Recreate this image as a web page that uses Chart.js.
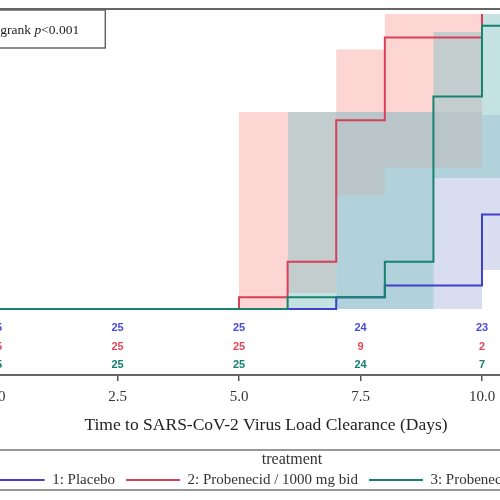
<!DOCTYPE html>
<html><head><meta charset="utf-8">
<script src="https://cdn.jsdelivr.net/npm/chart.js@4"></script>
<style>
html,body{margin:0;padding:0;background:#fff;}
#wrap{position:relative;width:500px;height:500px;overflow:hidden;background:#fff;}
#c{position:absolute;left:-58px;top:0;}
</style></head><body>
<div id="wrap"><canvas id="c" width="700" height="500"></canvas></div>
<script>
// ---- data ----
const tickValues = [0, 2.5, 5, 7.5, 10];
const groups = ['1: Placebo', '2: Probenecid / 1000 mg bid', '3: Probenecid / 500 mg bid'];
const atRiskTimes = [0, 2.5, 5, 7.5, 10];
const placeboAtRisk = [25, 25, 25, 24, 23];
const prob1000AtRisk = [25, 25, 25, 9, 2];
const prob500AtRisk = [25, 25, 25, 24, 7];

const placeboTimes = [0, 7, 8, 10, 11];
const placeboCum = [0, 0.04, 0.08, 0.32, 0.32];
const prob1000Times = [0, 5, 6, 7, 8, 10];
const prob1000Cum = [0, 0.04, 0.16, 0.64, 0.92, 1.0];
const prob500Times = [0, 6, 8, 9, 10, 11];
const prob500Cum = [0, 0.04, 0.16, 0.72, 0.96, 0.96];

const placeboBandTimes = [7, 8, 9, 10, 11];
const placeboLower = [0, 0, 0, 0.132, 0.132];
const placeboUpper = [0.668, 0.668, 0.668, 0.658, 0.658];
const prob1000BandTimes = [5, 6, 7, 8, 9, 10];
const prob1000Lower = [0, 0.054, 0.386, 0.478, 0.478, 0.478];
const prob1000Upper = [0.668, 0.668, 0.88, 1.0, 1.0, 1.0];
const prob500BandTimes = [6, 7, 8, 9, 10, 11];
const prob500Lower = [0, 0, 0, 0.444, 0.444, 0.444];
const prob500Upper = [0.668, 0.668, 0.668, 0.939, 1.0, 1.0];

const pText = {pre: 'Logrank ', it: 'p', post: '<0.001'};

// ---- styles ----
const SERIF = "'Liberation Serif', 'DejaVu Serif', serif";
const blue = '#4040cc', red = '#d8405a', green = '#17826f';
const blueBand = 'rgba(177,187,225,0.5)', redBand = 'rgba(251,173,167,0.5)', greenBand = 'rgba(139,197,199,0.5)';
const atRiskColors = ['#4b4bd6', '#e0475a', '#12806c'];

const pts = (t, v) => t.map((x, i) => ({x: x, y: v[i]}));
const lineDs = (label, t, v, color) => ({label, data: pts(t, v), borderColor: color, backgroundColor: color,
  borderWidth: 2, stepped: 'before', pointRadius: 0, pointHoverRadius: 0, fill: false});
const bandDs = (t, v, color, target) => ({label: '', data: pts(t, v), borderWidth: 0, borderColor: 'rgba(0,0,0,0)',
  backgroundColor: color, stepped: 'before', pointRadius: 0, pointHoverRadius: 0, fill: target});

const datasets = [
  lineDs(groups[2], prob500Times, prob500Cum, green),
  lineDs(groups[1], prob1000Times, prob1000Cum, red),
  lineDs(groups[0], placeboTimes, placeboCum, blue),
  bandDs(prob500BandTimes, prob500Upper, greenBand, '+1'),
  bandDs(prob500BandTimes, prob500Lower, greenBand, false),
  bandDs(prob1000BandTimes, prob1000Upper, redBand, '+1'),
  bandDs(prob1000BandTimes, prob1000Lower, redBand, false),
  bandDs(placeboBandTimes, placeboUpper, blueBand, '+1'),
  bandDs(placeboBandTimes, placeboLower, blueBand, false)
];

const decor = {
  id: 'decor',
  afterDatasetsDraw(chart) {
    const ctx = chart.ctx, xs = chart.scales.x, ys = chart.scales.y;
    const y0 = ys.getPixelForValue(0);
    const rows = [placeboAtRisk, prob1000AtRisk, prob500AtRisk];
    const offs = [19, 38, 56];
    ctx.save();
    ctx.font = "bold 11px 'Liberation Sans Narrow', 'Liberation Sans', sans-serif";
    ctx.textAlign = 'center'; ctx.textBaseline = 'middle';
    rows.forEach((row, r) => {
      ctx.fillStyle = atRiskColors[r];
      row.forEach((n, i) => ctx.fillText(String(n), xs.getPixelForValue(atRiskTimes[i]), y0 + offs[r]));
    });
    ctx.restore();
  },
  afterDraw(chart) {
    const ctx = chart.ctx, a = chart.chartArea;
    ctx.save();
    // plot frame
    ctx.strokeStyle = '#666'; ctx.lineWidth = 2;
    ctx.strokeRect(a.left, a.top, a.right - a.left, a.bottom - a.top);
    // p-value box
    const bx = a.left + 6, by = a.top + 1, bw = 130, bh = 38;
    ctx.fillStyle = '#fff'; ctx.fillRect(bx, by, bw, bh);
    ctx.lineWidth = 1.5; ctx.strokeStyle = '#666'; ctx.strokeRect(bx, by, bw, bh);
    ctx.fillStyle = '#222'; ctx.textBaseline = 'middle'; ctx.textAlign = 'left';
    let tx = a.left + 16; const ty = by + bh / 2 + 1;
    ctx.font = '13.5px ' + SERIF; ctx.fillText(pText.pre, tx, ty); tx += ctx.measureText(pText.pre).width;
    ctx.font = 'italic 13.5px ' + SERIF; ctx.fillText(pText.it, tx, ty); tx += ctx.measureText(pText.it).width;
    ctx.font = '13.5px ' + SERIF; ctx.fillText(pText.post, tx, ty);
    // legend box lines
    const lg = chart.legend;
    ctx.strokeStyle = '#777'; ctx.lineWidth = 1.5;
    ctx.beginPath();
    ctx.moveTo(lg.left, lg.top - 2); ctx.lineTo(lg.right, lg.top - 2);
    ctx.moveTo(lg.left, lg.top + 38); ctx.lineTo(lg.right, lg.top + 38);
    ctx.stroke();
    ctx.restore();
  }
};

new Chart(document.getElementById('c'), {
  type: 'line',
  data: {datasets},
  options: {
    responsive: false, animation: false, events: [],
    layout: {padding: {left: 27.3, right: 27.3, top: 9, bottom: 2.5}},
    scales: {
      x: {
        type: 'linear', min: -0.55, max: 11.66,
        afterBuildTicks: s => { s.ticks = tickValues.map(v => ({value: v})); },
        afterFit: s => { s.height = 77; },
        ticks: {callback: v => Number(v).toFixed(1), font: {family: SERIF, size: 15}, color: '#333',
          padding: 7, maxRotation: 0, autoSkip: false},
        grid: {display: true, drawOnChartArea: false, drawTicks: true, tickLength: 6, color: '#555', lineWidth: 1.5},
        border: {display: true, color: '#555', width: 2},
        title: {display: true, text: 'Time to SARS-CoV-2 Virus Load Clearance (Days)',
          font: {family: SERIF, size: 17.5}, color: '#222', padding: {top: 0, bottom: 16.5}}
      },
      y: {type: 'linear', min: -0.2237, max: 1.017, display: false},
      y2: {type: 'linear', position: 'right', display: true, ticks: {display: false},
        grid: {display: false, drawTicks: false}, border: {display: false},
        afterFit: s => { s.width = 52; }}
    },
    plugins: {
      tooltip: {enabled: false},
      legend: {
        position: 'bottom',
        labels: {
          filter: item => item.datasetIndex < 3,
          sort: (a, b) => b.datasetIndex - a.datasetIndex,
          usePointStyle: true, pointStyle: 'line', pointStyleWidth: 54,
          font: {family: SERIF, size: 15}, color: '#333', padding: 11
        },
        title: {display: true, text: 'treatment', color: '#333',
          font: {family: SERIF, size: 16, lineHeight: 1.0}, padding: {top: 0, bottom: -6.5}}
      }
    }
  },
  plugins: [decor]
});
</script>
</body></html>
